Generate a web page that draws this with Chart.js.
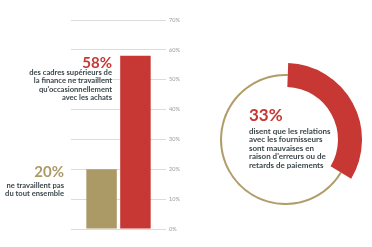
<!DOCTYPE html>
<html>
<head>
<meta charset="utf-8">
<script src="https://cdn.jsdelivr.net/npm/chart.js@4"></script>
<style>
  html, body { margin: 0; padding: 0; background: #fff; }
  body { width: 372px; height: 247px; position: relative; overflow: hidden; font-family: "Lato", sans-serif; }
  .box { position: absolute; }
  .txt { position: absolute; font-weight: 700; color: #3c474b; white-space: nowrap; }
  .big { position: absolute; font-weight: 700; white-space: nowrap; }
</style>
</head>
<body>
<div class="box" style="left:0;top:0;width:190px;height:247px"><canvas id="barres"></canvas></div>
<div class="box" style="left:220px;top:74px;width:131px;height:131px"><canvas id="cercle"></canvas></div>
<div class="box" style="left:209px;top:63px;width:153px;height:153px"><canvas id="anneau"></canvas></div>

<div class="big" style="right:260px;top:53px;font-size:15px;line-height:18px;color:#c73834;text-align:right">58%</div>
<div class="txt" style="right:260px;top:67.5px;font-size:7.6px;line-height:8.6px;text-align:right">des cadres supérieurs de<br>la finance ne travaillent<br>qu'occasionnellement<br>avec les achats</div>

<div class="big" style="right:308px;top:162px;font-size:15px;line-height:18px;color:#ac9a66;text-align:right">20%</div>
<div class="txt" style="right:308px;top:182px;font-size:7.6px;line-height:7.7px;text-align:right">ne travaillent pas<br>du tout ensemble</div>

<div class="big" style="left:249px;top:105px;font-size:17px;line-height:20px;color:#c73834">33%</div>
<div class="txt" style="left:249px;top:126.5px;font-size:8px;line-height:8.6px">disent que les relations<br>avec les fournisseurs<br>sont mauvaises en<br>raison d'erreurs ou de<br>retards de paiements</div>

<script>
// Données
const categories = [''];
const pasDuTout = [20];
const occasionnel = [58];
const yTicks = ['0%', '10%', '20%', '30%', '40%', '50%', '60%', '70%'];
const relations = [33, 67];

const or = '#ac9a66';
const rouge = '#c73834';
const vide = 'rgba(0,0,0,0)';

new Chart(document.getElementById('barres').getContext('2d'), {
    type: 'bar',
    data: {
        labels: categories,
        datasets: [
            { data: pasDuTout, backgroundColor: or, barPercentage: 0.9, categoryPercentage: 0.713 },
            { data: occasionnel, backgroundColor: rouge, barPercentage: 0.9, categoryPercentage: 0.713 }
        ]
    },
    options: {
        responsive: true,
        maintainAspectRatio: false,
        animation: false,
        layout: { padding: { left: 71, top: 20, bottom: 18, right: 0 } },
        plugins: { legend: { display: false }, tooltip: { enabled: false } },
        scales: {
            x: { display: false },
            y: {
                position: 'right',
                min: 0,
                max: 70,
                afterFit: function(scale) { scale.width = 24; },
                grid: { color: '#dcdcdc', lineWidth: 1, drawTicks: false },
                border: { display: false },
                ticks: {
                    stepSize: 10,
                    padding: 3,
                    color: '#9a9a9a',
                    font: { size: 5.5, family: 'Lato' },
                    callback: function(value, i) { return yTicks[i]; }
                }
            }
        }
    }
});

// fin anneau doré (partie restante)
new Chart(document.getElementById('cercle').getContext('2d'), {
    type: 'doughnut',
    data: { datasets: [{ data: relations, backgroundColor: [vide, '#b09d6a'], borderWidth: 0 }] },
    options: {
        responsive: true,
        maintainAspectRatio: false,
        animation: false,
        cutout: '96.9%',
        rotation: 2,
        plugins: { legend: { display: false }, tooltip: { enabled: false } }
    }
});

// arc rouge épais
new Chart(document.getElementById('anneau').getContext('2d'), {
    type: 'doughnut',
    data: { datasets: [{ data: relations, backgroundColor: [rouge, vide], borderWidth: 0 }] },
    options: {
        responsive: true,
        maintainAspectRatio: false,
        animation: false,
        cutout: '68.6%',
        rotation: 2,
        plugins: { legend: { display: false }, tooltip: { enabled: false } }
    }
});
</script>
</body>
</html>
